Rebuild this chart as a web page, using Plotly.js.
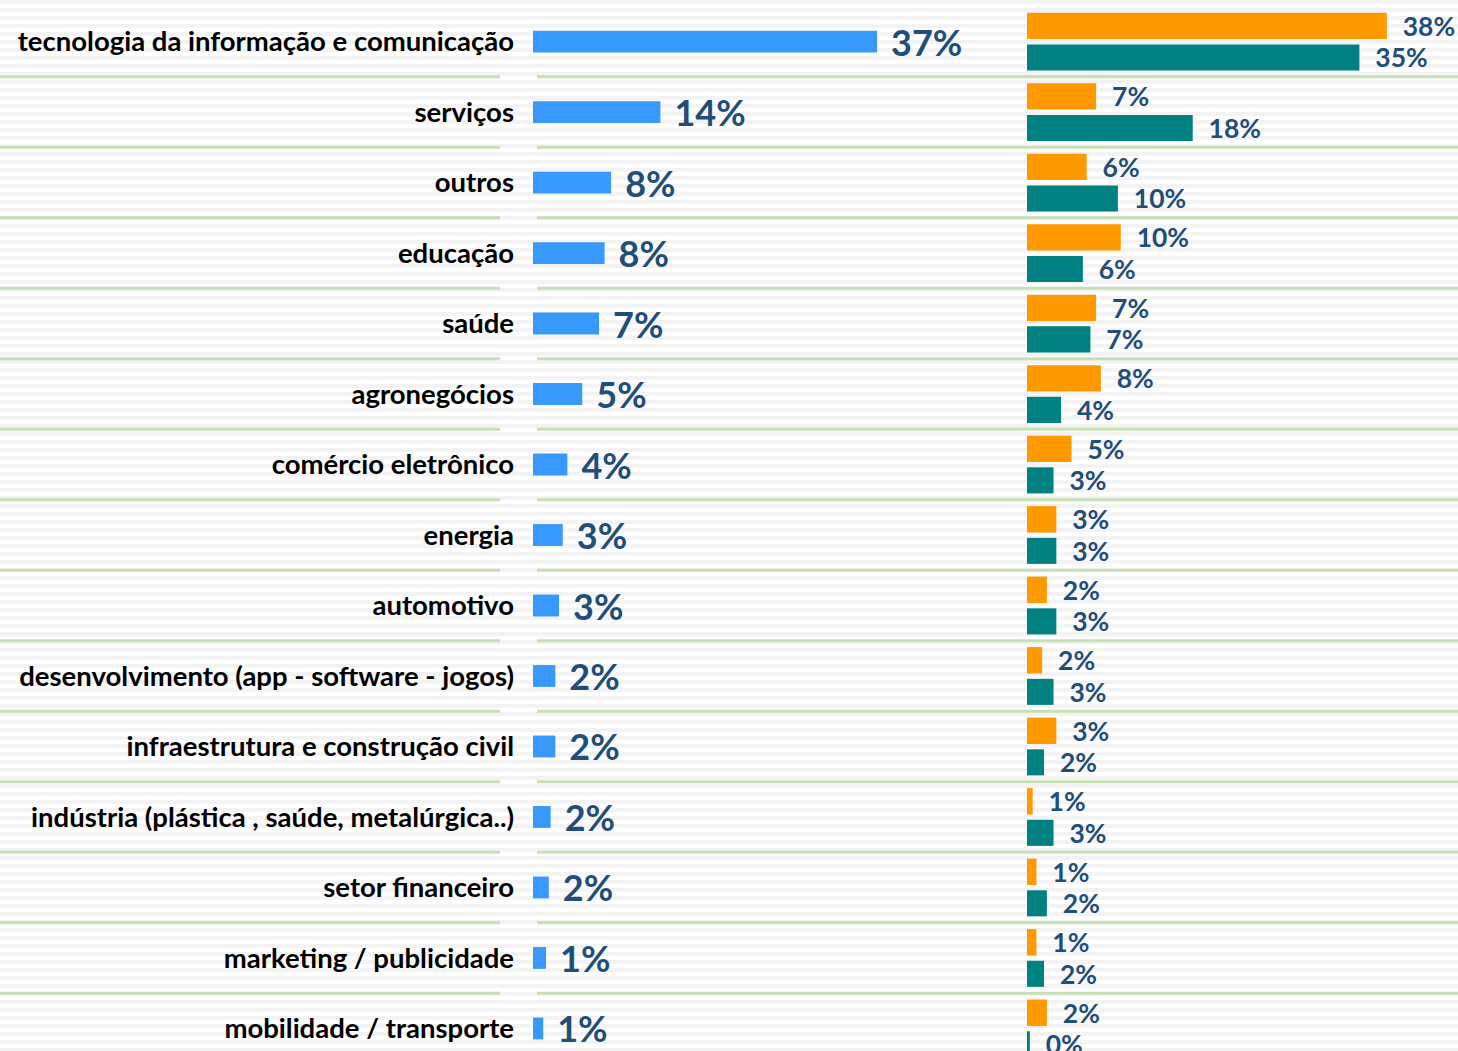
<!DOCTYPE html>
<html>
<head>
<meta charset="utf-8">
<script src="https://cdn.plot.ly/plotly-3.0.1.min.js"></script>
<style>
  html, body { margin: 0; padding: 0; }
  body {
    width: 1458px; height: 1051px; overflow: hidden;
    background: repeating-linear-gradient(to bottom, #f3f3f3 0px, #f3f3f3 4px, #ffffff 4px, #ffffff 8px);
  }
  #graph { width: 1458px; height: 1051px; }
</style>
</head>
<body>
<div id="graph"></div>
<script>
// sectors, top to bottom
var categories = [
    'tecnologia da informação e comunicação',
    'serviços',
    'outros',
    'educação',
    'saúde',
    'agronegócios',
    'comércio eletrônico',
    'energia',
    'automotivo',
    'desenvolvimento (app - software - jogos)',
    'infraestrutura e construção civil',
    'indústria (plástica , saúde, metalúrgica..)',
    'setor financeiro',
    'marketing / publicidade',
    'mobilidade / transporte'
];
// left panel (blue)
var totalValues = [37.0, 13.7, 8.4, 7.7, 7.1, 5.3, 3.7, 3.2, 2.8, 2.4, 2.4, 1.9, 1.7, 1.4, 1.1];
// right panel, upper bar (orange) and lower bar (teal)
var orangeValues = [38.0, 7.3, 6.3, 9.9, 7.3, 7.8, 4.7, 3.1, 2.1, 1.6, 3.1, 0.6, 1.0, 1.0, 2.1];
var tealValues = [35.1, 17.5, 9.6, 5.9, 6.7, 3.6, 2.8, 3.1, 3.1, 2.8, 1.8, 2.8, 2.1, 1.8, 0.3];

var W = 1458;
var labelColor = '#1f4e79';
var fontFam = 'Lato, "Open Sans", sans-serif';

var total = {
    type: 'bar', orientation: 'h',
    x: totalValues, y: categories,
    xaxis: 'x', yaxis: 'y',
    width: 0.31,
    marker: {color: '#3899fc'},
    texttemplate: '\u00a0\u200a%{x:.0f}%',
    textposition: 'outside', textangle: 0, constraintext: 'none',
    cliponaxis: false,
    textfont: {family: fontFam, size: 36, color: labelColor, weight: 'bold'},
    hoverinfo: 'skip'
};
var orange = {
    type: 'bar', orientation: 'h',
    x: orangeValues, y: categories,
    xaxis: 'x2', yaxis: 'y',
    width: 0.375, offset: -0.41,
    marker: {color: '#ff9900'},
    texttemplate: '\u00a0\u00a0%{x:.0f}%',
    textposition: 'outside', textangle: 0, constraintext: 'none',
    cliponaxis: false,
    textfont: {family: fontFam, size: 26.5, color: labelColor, weight: 'bold'},
    hoverinfo: 'skip'
};
var teal = {
    type: 'bar', orientation: 'h',
    x: tealValues, y: categories,
    xaxis: 'x2', yaxis: 'y',
    width: 0.37, offset: 0.04,
    marker: {color: '#008080'},
    texttemplate: '\u00a0\u00a0%{x:.0f}%',
    textposition: 'outside', textangle: 0, constraintext: 'none',
    cliponaxis: false,
    textfont: {family: fontFam, size: 26.5, color: labelColor, weight: 'bold'},
    hoverinfo: 'skip'
};

/* green separators between rows, split round the gap at the axis */
var shapes = [];
for (var i = 0; i < categories.length - 1; i++) {
    shapes.push({type: 'line', xref: 'paper', yref: 'y', x0: 0, x1: 500 / W, y0: i + 0.5, y1: i + 0.5,
        line: {color: '#c6e0b4', width: 3}, layer: 'below'});
    shapes.push({type: 'line', xref: 'paper', yref: 'y', x0: 537 / W, x1: 1, y0: i + 0.5, y1: i + 0.5,
        line: {color: '#c6e0b4', width: 3}, layer: 'below'});
}

var layout = {
    width: W, height: 1051,
    margin: {l: 0, r: 0, t: 0, b: 0, pad: 0},
    paper_bgcolor: 'rgba(0,0,0,0)',
    plot_bgcolor: 'rgba(0,0,0,0)',
    barmode: 'overlay',
    showlegend: false,
    font: {family: fontFam},
    xaxis: {
        domain: [533 / W, 1000 / W], range: [0, 467 / 9.3],
        visible: false, fixedrange: true
    },
    xaxis2: {
        domain: [1027 / W, 1], range: [0, 431 / 9.47],
        visible: false, fixedrange: true
    },
    yaxis: {
        type: 'category', range: [14.32, -0.59],
        anchor: 'x', domain: [0, 1],
        showgrid: false, zeroline: false, showline: false,
        ticks: '', ticklabelstandoff: 18, automargin: false,
        tickfont: {family: fontFam, size: 27.5, color: '#000000', weight: 'bold'},
        fixedrange: true
    },
    shapes: shapes
};

Plotly.newPlot('graph', [total, orange, teal], layout, {displayModeBar: false, staticPlot: true});
</script>
</body>
</html>
